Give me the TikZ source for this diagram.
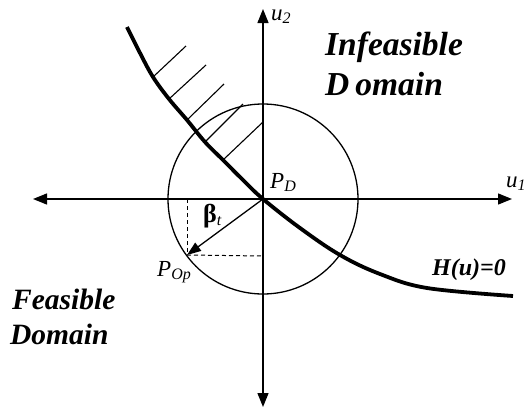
\documentclass[tikz,border=0pt]{standalone}
\usepackage{fontspec}
\setmainfont{Liberation Serif}
\usetikzlibrary{arrows.meta}
\tikzset{
  axis/.style={line width=1.3pt,-{Triangle[length=14pt,width=11pt]}},
  hatch/.style={line width=1.1pt},
  dashline/.style={line width=1pt,dash pattern=on 4pt off 3pt},
  bigtxt/.style={inner sep=0pt,anchor=base west,font=\bfseries\itshape},
  lbl/.style={inner sep=0pt,anchor=base west,font=\itshape\fontsize{23}{25}\selectfont}
}
\newcommand{\mysub}[1]{\textsubscript{\fontsize{16}{18}\selectfont #1}}
\begin{document}
\begin{tikzpicture}[x=1pt,y=-1pt]
\useasboundingbox (0,0) rectangle (530,410);
% reference points
\coordinate (O) at (263,199);
\coordinate (L) at (33,199);
\coordinate (R) at (512,199);
\coordinate (T) at (263,9);
\coordinate (B) at (263,407);
\coordinate (Pop) at (187,255);
\coordinate (Px) at (187,199);
\coordinate (Py) at (263,256);
% axes
\draw[axis] (O) -- (R);
\draw[axis] (O) -- (L);
\draw[axis] (O) -- (T);
\draw[axis] (O) -- (B);
% circle
\draw[line width=1.3pt] (O) circle[radius=95];
% hatch
\draw[hatch] (153,77) -- (186,46);
\draw[hatch] (169,99) -- (206,65);
\draw[hatch] (187,120) -- (224,84);
\draw[hatch] (205,142) -- (243,104);
\draw[hatch] (223,160) -- (263,122);
% limit state curve
\draw[line width=3.8pt] plot[smooth,tension=0.6] coordinates {(127,27) (140,53) (153,77) (169,99) (187,120) (205,142) (223,160) (243,180) (263,199) (300,228) (340,255) (380,274) (427,288) (513,296)};
% dashed projections
\draw[dashline] (Px) -- (Pop);
\draw[dashline] (Pop) -- (Py);
% beta arrow
\draw[line width=1.3pt,-{Triangle[length=14pt,width=10pt]}] (O) -- (Pop);
% labels
\node[bigtxt,font=\bfseries\itshape\fontsize{33.5}{38}\selectfont] (inf1) at (325,55) {Infeasible};
\node[bigtxt,font=\bfseries\itshape\fontsize{33.5}{38}\selectfont] (inf2) at (325,95) {D\kern6pt omain};
\node[bigtxt,font=\bfseries\itshape\fontsize{29.5}{34}\selectfont] (fea1) at (12,309) {Feasible};
\node[bigtxt,font=\bfseries\itshape\fontsize{29.5}{34}\selectfont] (fea2) at (10,344) {Domain};
\node[bigtxt,font=\bfseries\itshape\fontsize{24}{28}\selectfont] (H) at (432,275) {H(u)=0};
\node[lbl] (PD) at (270,188) {P\mysub{D}};
\node[lbl] (POp) at (157,276) {P\mysub{Op}};
\node[lbl] (u2) at (271,20) {u\mysub{2}};
\node[lbl] (u1) at (506,187) {u\mysub{1}};
\node[inner sep=0pt,anchor=base west,font=\bfseries\fontsize{26}{28}\selectfont] (beta) at (203,222) {β\textsubscript{\normalfont\itshape\fontsize{16}{18}\selectfont t}};
\end{tikzpicture}
\end{document}
